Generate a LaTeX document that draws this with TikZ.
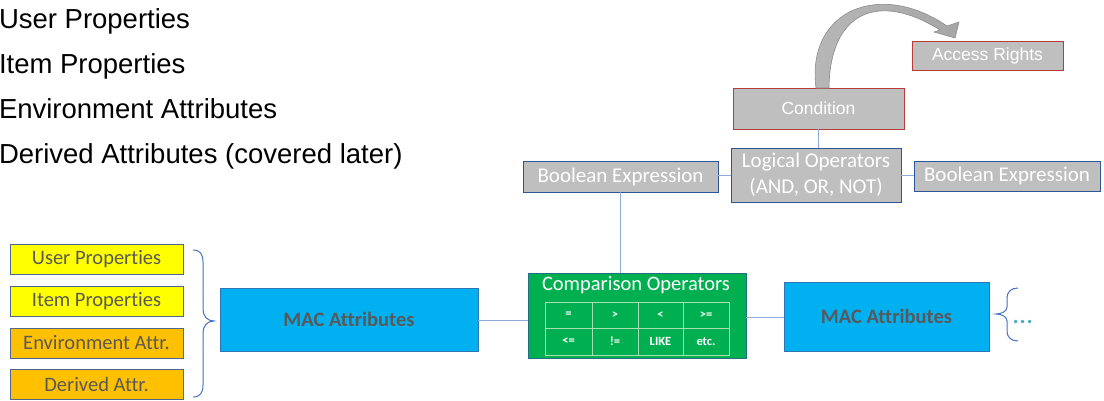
\documentclass[tikz,border=0pt]{standalone}
\usepackage{fontspec}
\newfontfamily\arialf{Liberation Sans}
\newfontfamily\calf[Ligatures=NoCommon]{Carlito}
\definecolor{boxgray}{HTML}{BFBFBF}
\definecolor{darkblue}{HTML}{2F5597}
\definecolor{linkblue}{HTML}{8FAADC}
\definecolor{bracecol}{HTML}{4472C4}
\definecolor{redborder}{HTML}{B83B3B}
\definecolor{txtgray}{HTML}{595959}
\definecolor{yel}{HTML}{FFFF00}
\definecolor{ora}{HTML}{FFC000}
\definecolor{macblue}{HTML}{00B0F0}
\definecolor{macborder}{HTML}{2E75B6}
\definecolor{grn}{HTML}{00B050}
\definecolor{tablel}{HTML}{A9E0B0}
\definecolor{dotcol}{HTML}{4BACC6}
\definecolor{arrowgray}{HTML}{A6A6A6}
\definecolor{arrowedge}{HTML}{8C8C8C}
\begin{document}
\begin{tikzpicture}[x=1pt,y=-1pt,
  every node/.style={inner sep=0pt,outer sep=0pt},
  toptext/.style={anchor=base west,font=\arialf\fontsize{27.5}{30}\selectfont,text=black},
  attrbox/.style={draw=darkblue!60!gray,line width=0.8pt,minimum width=173pt,minimum height=30pt,text=txtgray,font=\calf\fontsize{20.5}{22}\selectfont},
  graybox/.style={draw=darkblue,line width=0.8pt,fill=boxgray,text=white,font=\calf\fontsize{21}{26}\selectfont,align=center},
  redbox/.style={draw=redborder,line width=0.9pt,fill=boxgray,text=white,font=\arialf\fontsize{17.5}{20}\selectfont},
  macbox/.style={draw=macborder,line width=0.8pt,fill=macblue,text=txtgray,font=\calf\bfseries\fontsize{20.5}{24}\selectfont},
  link/.style={draw=linkblue,line width=0.9pt},
  cell/.style={text=white,font=\calf\bfseries\fontsize{12.5}{14}\selectfont}
]
\useasboundingbox (0,0) rectangle (1104,400);

% top-left list
\node[toptext] (t1) at (-1,28) {User Properties};
\node[toptext] (t2) at (-1,73) {Item Properties};
\node[toptext] (t3) at (-1,118) {Environment Attributes};
\node[toptext] (t4) at (-1,163) {Derived Attributes (covered later)};

% left attribute boxes
\node[attrbox,fill=yel] (ub) at (96.5,259) {User Properties};
\node[attrbox,fill=yel] (ib) at (96.5,301) {Item Properties};
\node[attrbox,fill=ora] (eb) at (96.5,343) {Environment Attr.};
\node[attrbox,fill=ora] (db) at (96.5,384) {Derived Attr.};

% left brace
\draw[bracecol,line width=1pt] (193,250) .. controls (200,250) and (203,254) .. (203,262) -- (203,309)
  .. controls (203,316) and (207,321) .. (214,321)
  .. controls (207,321) and (203,326) .. (203,333) -- (203,385)
  .. controls (203,393) and (200,397) .. (193,397);

% MAC boxes
\node[macbox,minimum width=258pt,minimum height=63pt] (macL) at (349,319.5) {MAC Attributes};
\node[macbox,minimum width=205pt,minimum height=69pt] (macR) at (886.5,316.5) {MAC Attributes};

% comparison operators
\node[draw=darkblue!70!grn,line width=0.8pt,fill=grn,minimum width=218pt,minimum height=85pt] (comp) at (637,315.5) {};
\node[text=white,font=\calf\fontsize{20.5}{24}\selectfont] (ctitle) at (636,285) {Comparison Operators};
\draw[tablel,line width=0.8pt] (545,302) rectangle (729,355);
\draw[tablel,line width=0.8pt] (545,328) -- (729,328);
\foreach \xx in {592,638,683} \draw[tablel,line width=0.8pt] (\xx,302) -- (\xx,355);
\node[cell] (c1) at (568.5,315) {=};
\node[cell] (c2) at (615,315) {>};
\node[cell] (c3) at (660.5,315) {<};
\node[cell] (c4) at (706,315) {>=};
\node[cell] (c5) at (568.5,341.5) {<=};
\node[cell] (c6) at (615,341.5) {!=};
\node[cell] (c7) at (660.5,341.5) {LIKE};
\node[cell] (c8) at (706,341.5) {etc.};

% right brace and dots
\draw[bracecol,line width=1pt] (1018,288) .. controls (1011,288) and (1007,292) .. (1007,298) -- (1007,307)
  .. controls (1007,311) and (1002,314) .. (996,314)
  .. controls (1002,314) and (1007,317) .. (1007,321) -- (1007,331)
  .. controls (1007,337) and (1011,341) .. (1018,341);
\node[text=dotcol,font=\calf\fontsize{28}{30}\selectfont,anchor=base west] (dots) at (1013,323) {…};

% gray boxes
\node[graybox,minimum width=195pt,minimum height=31pt] (boolL) at (620.5,176.5) {Boolean Expression};
\node[graybox,minimum width=170pt,minimum height=54pt] (logic) at (816,175) {Logical Operators\\(AND, OR, NOT)};
\node[graybox,minimum width=186pt,minimum height=30pt] (boolR) at (1007,176) {Boolean Expression};
\node[redbox,minimum width=171pt,minimum height=41pt] (cond) at (818.5,108.5) {Condition};
\node[redbox,minimum width=151pt,minimum height=29pt] (acc) at (987.5,55.5) {Access Rights};

% connectors
\draw[link] (macL.east |- 0,320) -- (comp.west |- 0,320);
\draw[link] (comp.east |- 0,317) -- (macR.west |- 0,317);
\draw[link] (boolL.south) -- (boolL.south |- comp.north);
\draw[link] (boolL.east |- 0,175) -- (logic.west |- 0,175);
\draw[link] (logic.east |- 0,175) -- (boolR.west |- 0,175);
\draw[link] (cond.south) -- (cond.south |- logic.north);

% curved block arrow from condition to access rights
\shade[left color=arrowgray!80,right color=arrowgray,draw=arrowedge,line width=0.6pt]
  (816,88) .. controls (806,10) and (880,-20) .. (947,26)
  -- (959,22) -- (955,38) -- (934,32) -- (940,30)
  .. controls (880,-8) and (830,10) .. (829,88) -- cycle;
\end{tikzpicture}
\end{document}
